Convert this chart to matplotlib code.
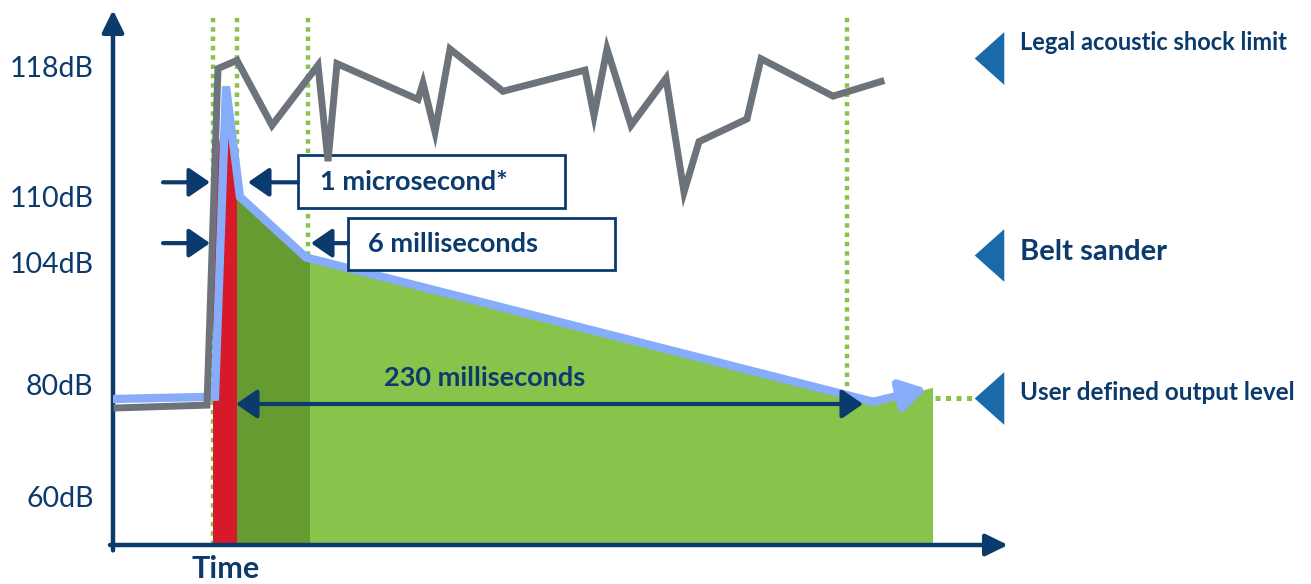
import numpy as np
import matplotlib.pyplot as plt
from matplotlib.patches import Rectangle

plt.rcParams['font.family'] = ['Lato', 'DejaVu Sans']

# y ticks (dB) and the levels of every curve
tick_db = [60, 80, 104, 110, 118]

# ambient noise (grey)
noise_t = [117, 207, 218, 237, 272, 318, 328, 337, 418, 423, 435, 450, 503,
           585, 594, 607, 631, 666, 684, 699, 747, 761, 833, 881]
noise_db = [75.9, 76.4, 117.9, 118.4, 114.4, 118.1, 112.2, 118.2, 116.0, 117.0,
            114.0, 119.1, 116.5, 117.8, 115.0, 119.1, 114.4, 117.3, 110.3, 113.4,
            114.8, 118.5, 116.2, 117.1]

# output level envelope (blue)
out_t = [115, 215, 226, 240, 306, 873, 927]
out_db = [77.5, 77.9, 116.8, 110.0, 104.5, 77.0, 79.3]

# shaded phases
red_t = [213, 213, 226, 237, 237]
red_db = [51.4, 110.9, 116.0, 109.7, 51.4]
dark_t = [237, 237, 310, 310]
dark_db = [51.4, 110.1, 104.4, 51.4]
light_t = [310, 310, 873, 933, 933]
light_db = [51.4, 104.2, 76.6, 79.5, 51.4]

marker_t = [213, 237, 308, 847]

# right-hand reference levels
ref_labels = ['Legal acoustic shock limit', 'Belt sander', 'User defined output level']
ref_db = [118.55, 104.7, 77.7]
ref_text_db = [119.5, 105.0, 78.6]
ref_size = [17, 21, 17.5]

navy = '#0B3A6C'
tri_blue = '#1A6AAA'
green_l = '#88C34B'
green_d = '#659B31'
red = '#D71A2A'
grey = '#6D737A'
blue_l = '#86ACFA'

# schematic (non-linear) level axis: dB -> vertical position
db_anchor = [30, 60, 80, 104, 110, 118, 140]
pos_anchor = [-81, 87, 199, 321, 387, 517, 874.5]


def fwd(v):
    return np.interp(v, db_anchor, pos_anchor)


def inv(p):
    return np.interp(p, pos_anchor, db_anchor)


fig = plt.figure(figsize=(13.11, 5.84), dpi=100)
ax = fig.add_axes([113 / 1311, 39 / 584, 1198 / 1311, 535 / 584])
ax.set_yscale('function', functions=(fwd, inv))
ax.set_xlim(113, 1311)
ax.set_ylim(51.43, 121.5)
for s in ax.spines.values():
    s.set_visible(False)

ax.set_xticks([])
ax.set_yticks(tick_db)
ax.set_yticklabels([f'{v}dB' for v in tick_db], color=navy, fontsize=20.5)
ax.tick_params(axis='y', length=0, pad=14)

# axes drawn as arrows
ax.annotate('', xy=(0, 1.0), xytext=(0, -0.01), xycoords='axes fraction',
            arrowprops=dict(arrowstyle='-|>,head_length=0.45,head_width=0.22',
                            mutation_scale=30, lw=3.2, color=navy, shrinkA=0, shrinkB=0),
            annotation_clip=False)
ax.annotate('', xy=(1008, 0), xytext=(110, 0), xycoords=('data', 'axes fraction'),
            arrowprops=dict(arrowstyle='-|>,head_length=0.45,head_width=0.22',
                            mutation_scale=30, lw=3.2, color=navy, shrinkA=0, shrinkB=0),
            annotation_clip=False)

# dotted time markers
for t in marker_t:
    ax.axvline(t, ymin=0, ymax=0.995, color=green_l, lw=3.2, ls=(0, (1, 1.1)), zorder=1)

ax.fill(light_t, light_db, color=green_l, lw=0, zorder=2)
ax.fill(dark_t, dark_db, color=green_d, lw=0, zorder=2)
ax.fill(red_t, red_db, color=red, lw=0, zorder=2)

ax.plot(out_t[:-1], out_db[:-1], color=blue_l, lw=6, solid_joinstyle='miter', zorder=3)
ax.annotate('', xy=(out_t[-1], out_db[-1]), xytext=(out_t[-2], out_db[-2]),
            arrowprops=dict(arrowstyle='-|>,head_length=0.5,head_width=0.3',
                            mutation_scale=30, lw=6, color=blue_l, shrinkA=0, shrinkB=0),
            zorder=3)

# label boxes
ax.add_patch(Rectangle((298, 109.0), 267, 112.6 - 109.0, fc='white', ec=navy, lw=2, zorder=4))
ax.add_patch(Rectangle((348, 102.6), 267, 108.1 - 102.6, fc='white', ec=navy, lw=2, zorder=4))
ax.text(320, 110.9, '1 microsecond*', color=navy, fontsize=19.5, fontweight='bold',
        va='center', ha='left', zorder=6)
ax.text(368, 105.75, '6 milliseconds', color=navy, fontsize=19.5, fontweight='bold',
        va='center', ha='left', zorder=6)

ax.plot(noise_t, noise_db, color=grey, lw=5, solid_joinstyle='miter', zorder=5)

# duration arrows
head = '-|>,head_length=0.32,head_width=0.22'
for (x0, x1, y) in [(163, 210, 110.9), (163, 210, 105.8), (298, 248, 110.9), (348, 311, 105.8)]:
    ax.annotate('', xy=(x1, y), xytext=(x0, y),
                arrowprops=dict(arrowstyle=head, mutation_scale=40, lw=3, color=navy,
                                shrinkA=0, shrinkB=0), zorder=6)
ax.annotate('', xy=(863, 76.6), xytext=(236, 76.6),
            arrowprops=dict(arrowstyle='<|-|>,head_length=0.32,head_width=0.22',
                            mutation_scale=40, lw=3, color=navy, shrinkA=0, shrinkB=0),
            zorder=6)
ax.text(485, 81.4, '230 milliseconds', color=navy, fontsize=19.5, fontweight='bold',
        ha='center', va='center', zorder=6)

# reference levels on the right
ax.plot([935, 972], [ref_db[2], ref_db[2]], color=green_l, lw=3.6, ls=(0, (1, 1.1)), zorder=1)
tri = [(-0.56, 0), (0.56, -1), (0.56, 1)]
ax.scatter([989] * 3, ref_db, marker=tri, s=38 ** 2, color=tri_blue, lw=0,
           zorder=6, clip_on=False)
for lab, y, fs in zip(ref_labels, ref_text_db, ref_size):
    ax.text(1020, y, lab, color=navy, fontsize=fs, fontweight='bold',
            ha='left', va='center', zorder=6)

ax.text(226, -0.045, 'Time', transform=ax.get_xaxis_transform(), color=navy,
        fontsize=22, fontweight='bold', ha='center', va='center')

plt.savefig('out.png', dpi=100)
